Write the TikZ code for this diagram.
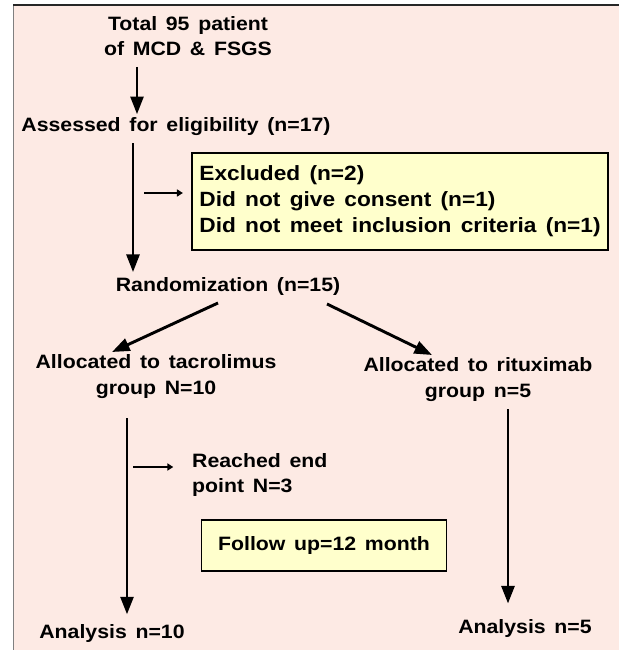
\documentclass[tikz,border=0pt]{standalone}
\usepackage{fontspec}
\setmainfont{Liberation Sans}[FakeStretch=1.1]
\usetikzlibrary{arrows.meta}

\definecolor{fondo}{RGB}{253,234,228}
\definecolor{amarillo}{RGB}{255,255,204}
\newcommand{\letraflujo}{\fontsize{16.5}{21.5}\selectfont\bfseries
  \fontdimen2\font=0.45em\relax}
\newcommand{\letracaja}{\fontsize{17.6}{22.2}\selectfont\bfseries
  \fontdimen2\font=0.45em\relax}

\begin{document}
\begin{tikzpicture}[
    x=0.03cm, y=-0.03cm,
    font=\letraflujo,
    flecha/.style={line width=2.5pt, -{Triangle[length=15pt,width=11pt]}},
    flechita/.style={line width=1.7pt, -{Triangle[length=5pt,width=6pt]}},
    texto/.style={inner sep=0pt, align=center},
    caja/.style={draw=black, line width=1.6pt, fill=amarillo, inner sep=0pt}
  ]

    % --- Fondo y marco ---
    \useasboundingbox (0,0) rectangle (619,650);
    \fill[fondo] (13,5) rectangle (619,650);
    \draw[gray, line width=0.8pt] (13,5) -- (13,650);
    \draw[black!85, line width=2.4pt] (13,5) -- (619,5);

    % --- Textos ---
    \node[texto] (total) at (188,36) {Total 95 patient\\of MCD \& FSGS};
    \node[texto] (assess) at (176,127) {Assessed for eligibility (n=17)};
    \node[caja, font=\letracaja, minimum width=12.48cm, minimum height=2.91cm,
          align=left] (excl) at (400,201.5)
      {Excluded (n=2)\\Did not give consent (n=1)\\Did not meet inclusion criteria (n=1)};
    \node[texto] (random) at (228,286) {Randomization (n=15)};
    \node[texto] (tacro) at (156,376.5) {Allocated to tacrolimus\\group N=10};
    \node[texto] (ritux) at (478,379.5) {Allocated to rituximab\\group n=5};
    \node[texto, anchor=west, align=left] (reached) at (192,475) {Reached end\\point N=3};
    \node[caja, minimum width=7.35cm, minimum height=1.53cm] (follow) at (324,545.5)
      {Follow up=12 month};
    \node[texto] (an1) at (112,633) {Analysis n=10};
    \node[texto] (an2) at (525,628) {Analysis n=5};

    % --- Puntos de salida de las flechas ---
    \coordinate (p1) at (137,67);
    \coordinate (p2) at (133,143);
    \coordinate (p3) at (144,193);
    \coordinate (p4) at (218,303);
    \coordinate (q4) at (112,352);
    \coordinate (p5) at (327,304);
    \coordinate (q5) at (432,355);
    \coordinate (p6) at (127,418);
    \coordinate (p7) at (508,409);
    \coordinate (p8) at (133,467);

    % --- Flechas ---
    \draw[flecha, shorten >=3pt] (p1) -- (p1 |- assess.north);
    \draw[flecha, shorten >=4pt] (p2) -- (p2 |- random.north);
    \draw[flechita, shorten >=7pt] (p3) -- (p3 -| excl.west);
    \draw[flecha] (p4) -- (q4);
    \draw[flecha] (p5) -- (q5);
    \draw[flecha, shorten >=8pt] (p6) -- (p6 |- an1.north);
    \draw[flecha, shorten >=13pt] (p7) -- (p7 |- an2.north);
    \draw[flechita, shorten >=16pt] (p8) -- (p8 -| reached.west);

  \end{tikzpicture}
\end{document}
